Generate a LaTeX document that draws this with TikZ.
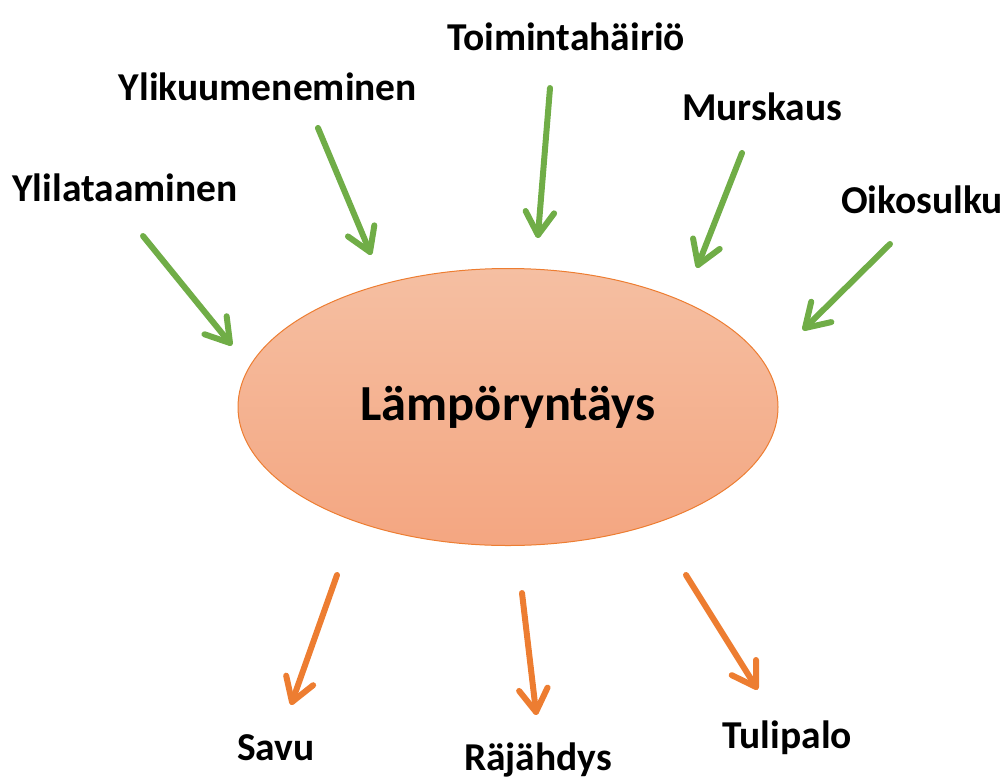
\documentclass[tikz,border=0pt]{standalone}
\usepackage{fontspec}
\setmainfont{Carlito}
\usetikzlibrary{calc, shapes.geometric}
\definecolor{lrGreen}{HTML}{70AD47}
\definecolor{lrOrange}{HTML}{ED7D31}
\definecolor{lrTop}{HTML}{F5BFA2}
\definecolor{lrBot}{HTML}{F4A681}
% open arrow head drawn at #2, pointing away from #1
\newcommand{\barbhead}[3]{\draw[#3, line join=round]
  ($(#2)!27pt!-32:(#1)$) -- (#2) -- ($(#2)!27pt!32:(#1)$);}

\begin{document}
\begin{tikzpicture}[
    x=1pt, y=-1pt,
    lbl/.style={font=\fontsize{39.5}{44}\selectfont\bfseries, text=black, inner sep=0pt},
    shaft/.style={line width=6pt, line cap=round},
    cause/.style={shaft, draw=lrGreen},
    effect/.style={shaft, draw=lrOrange},
  ]
  \useasboundingbox (0,0) rectangle (1007,780);

  % the central event
  \node[ellipse, draw=lrOrange, line width=1pt, top color=lrTop, bottom color=lrBot,
        minimum width=540pt, minimum height=277pt, inner sep=0pt,
        font=\fontsize{50.5}{56}\selectfont\bfseries] (heat) at (508,407) {Lämpöryntäys};

  % causes, above
  \node[lbl] (ylilat)  at (125,188) {Ylilataaminen};
  \node[lbl] (ylikuum) at (268,87)  {Ylikuumeneminen};
  \node[lbl] (toimint) at (566,37)  {Toimintahäiriö};
  \node[lbl] (mursk)   at (762,107) {Murskaus};
  \node[lbl] (oikos)   at (922,200) {Oikosulku};

  \coordinate (c1a) at (143,236); \coordinate (c1b) at (230,343);
  \coordinate (c2a) at (318,128); \coordinate (c2b) at (370,252);
  \coordinate (c3a) at (550,88);  \coordinate (c3b) at (538,235);
  \coordinate (c4a) at (742,153); \coordinate (c4b) at (698,265);
  \coordinate (c5a) at (890,244); \coordinate (c5b) at (805,328);
  \foreach \i in {1,...,5}{
    \draw[cause] (c\i a) -- (c\i b);
    \barbhead{c\i a}{c\i b}{cause}
  }

  % effects, below
  \node[lbl] (savu)  at (276,748) {Savu};
  \node[lbl] (rajah) at (538,760) {Räjähdys};
  \node[lbl] (tulip) at (787,738) {Tulipalo};

  \coordinate (e1a) at (337,575); \coordinate (e1b) at (292,702);
  \coordinate (e2a) at (522,593); \coordinate (e2b) at (536,712);
  \coordinate (e3a) at (686,575); \coordinate (e3b) at (756,687);
  \foreach \i in {1,2,3}{
    \draw[effect] (e\i a) -- (e\i b);
    \barbhead{e\i a}{e\i b}{effect}
  }
\end{tikzpicture}
\end{document}
